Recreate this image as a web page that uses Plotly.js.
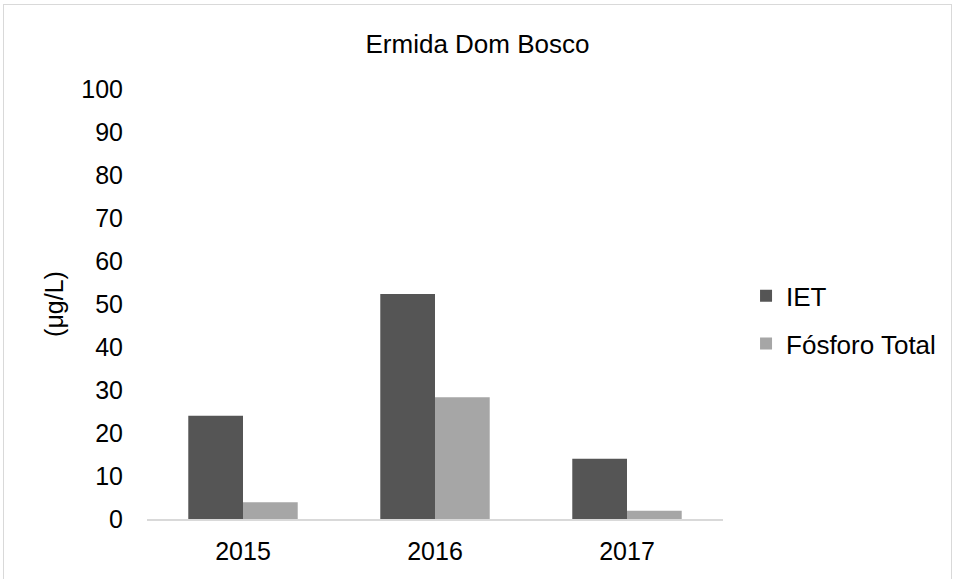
<!DOCTYPE html>
<html>
<head>
<meta charset="utf-8">
<script src="https://cdn.plot.ly/plotly-3.0.1.min.js"></script>
<style>
html,body{margin:0;padding:0;background:#fff;}
#frame{position:absolute;left:3px;top:4px;width:949px;height:590px;border:1.5px solid #d9d9d9;box-sizing:border-box;}
#chart{position:absolute;left:0;top:0;width:955px;height:579px;}
</style>
</head>
<body>
<div id="frame"></div>
<div id="chart"></div>
<script>
const years = ['2015', '2016', '2017'];
const iet = [24.0, 52.3, 14.0];
const fosforo = [3.9, 28.3, 1.9];
const seriesNames = ['IET', 'Fósforo Total'];
const yTicks = [0,10,20,30,40,50,60,70,80,90,100];

const font = 'Liberation Sans, Arial, sans-serif';
const data = [
  {type:'bar', x:years, y:iet, name:seriesNames[0], legendgroup:'a', marker:{color:'#555555'}, hoverinfo:'y'},
  {type:'bar', x:years, y:fosforo, name:seriesNames[1], legendgroup:'b', marker:{color:'#a6a6a6'}, hoverinfo:'y'}
];
const layout = {
  width:955, height:579,
  paper_bgcolor:'rgba(0,0,0,0)', plot_bgcolor:'rgba(0,0,0,0)',
  margin:{l:147, r:232, t:89, b:60},
  font:{family:font, color:'#000', size:25},
  title:{text:'Ermida Dom Bosco', x:0.5, xref:'container', y:1-44/579, yref:'container', yanchor:'middle', font:{size:26, family:font, color:'#000'}},
  barmode:'group', bargap:0.43, bargroupgap:0,
  showlegend:true,
  legend:{x:1.040, xanchor:'left', y:0.463, yanchor:'middle', traceorder:'grouped', tracegroupgap:11, font:{size:26, family:font, color:'#000'}, itemwidth:30},
  xaxis:{type:'category', showgrid:false, zeroline:false, showline:true, linecolor:'#d9d9d9', linewidth:1.5, ticks:'', ticklabelstandoff:9, tickfont:{size:25}, automargin:false, fixedrange:true},
  yaxis:{range:[0,100], tickmode:'array', tickvals:yTicks, ticktext:yTicks.map(String), showgrid:false, zeroline:false, showline:false, ticks:'', ticklabelstandoff:23, tickfont:{size:25}, automargin:false, fixedrange:true,
    title:{text:'(μg/L)', font:{size:25, family:font, color:'#000'}, standoff:10}}
};
Plotly.newPlot('chart', data, layout, {displayModeBar:false, staticPlot:true});
</script>
</body>
</html>
